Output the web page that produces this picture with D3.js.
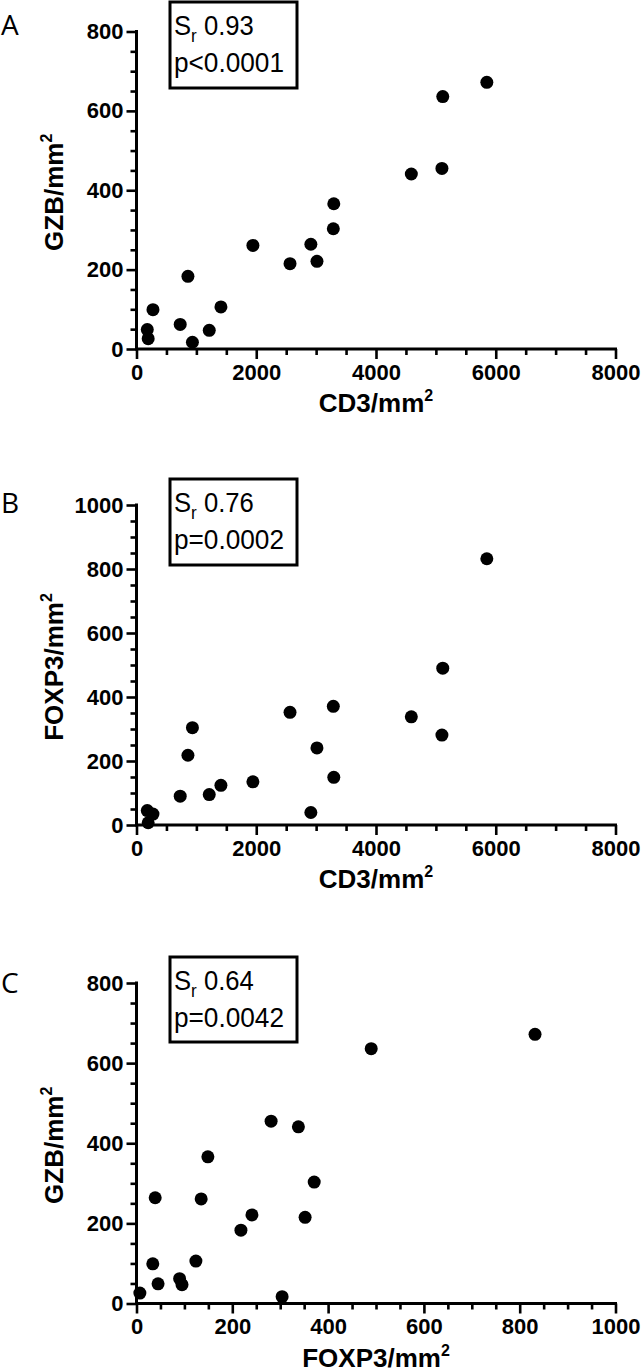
<!DOCTYPE html>
<html>
<head>
<meta charset="utf-8">
<script src="https://cdn.jsdelivr.net/npm/d3@7"></script>
<style>
  html, body { margin: 0; padding: 0; background: #fff; }
  svg { display: block; }
</style>
</head>
<body>
<script>
// ---- data ----
const cd3   = [180, 195, 275, 730, 859, 934, 1215, 1410, 1944, 2564, 2912, 3014, 3287, 3295, 4590, 5101, 5115, 5851];
const gzb   = [49, 26, 99, 62, 183, 17, 47, 106, 261, 215, 264, 221, 303, 366, 441, 455, 636, 672];
const foxp3 = [45, 7, 34, 90, 218, 304, 95, 124, 135, 352, 39, 241, 371, 149, 338, 281, 490, 832];

const panelLetters = ["A", "B", "C"];
const statR = ["0.93", "0.76", "0.64"];
const statP = ["p<0.0001", "p=0.0002", "p=0.0042"];
const xTitles = ["CD3", "CD3", "FOXP3"];
const yTitles = ["GZB", "FOXP3", "GZB"];
const xMax = [8000, 8000, 1000];
const yMax = [800, 1000, 800];
const xMajor = [2000, 2000, 200];
const yMajor = [200, 200, 200];
const xs = [cd3, cd3, foxp3];
const ys = [gzb, foxp3, gzb];

// ---- layout ----
const W = 644, H = 1372;
const layout = [
  { top: 31.5, bottom: 349, letterY: 35, boxTop: 2, boxBottom: 88 },
  { top: 505, bottom: 825, letterY: 513, boxTop: 479, boxBottom: 565 },
  { top: 983, bottom: 1303.5, letterY: 993, boxTop: 957, boxBottom: 1042 }
];
const left = 136.5, right = 615.5;

const svg = d3.select("body").append("svg").attr("width", W).attr("height", H);

const tickFont = "'Liberation Sans', Arial, sans-serif";

layout.forEach((L, i) => {
  const g = svg.append("g");
  const x = d3.scaleLinear().domain([0, xMax[i]]).range([left, right]);
  const y = d3.scaleLinear().domain([0, yMax[i]]).range([L.bottom, L.top]);

  const xMinorStep = xMajor[i] / 4, yMinorStep = yMajor[i] / 4;
  const xAll = d3.range(0, xMax[i] + 1e-9, xMinorStep);
  const yAll = d3.range(0, yMax[i] + 1e-9, yMinorStep);

  const xAxisMinor = d3.axisBottom(x).tickValues(xAll.filter(v => Math.abs(v % xMajor[i]) > 1e-6))
    .tickSize(6).tickFormat("");
  const yAxisMinor = d3.axisLeft(y).tickValues(yAll.filter(v => Math.abs(v % yMajor[i]) > 1e-6))
    .tickSize(6).tickFormat("");
  const xAxis = d3.axisBottom(x).tickValues(d3.range(0, xMax[i] + 1e-9, xMajor[i]))
    .tickSize(10).tickPadding(5).tickFormat(d3.format("d"));
  const yAxis = d3.axisLeft(y).tickValues(d3.range(0, yMax[i] + 1e-9, yMajor[i]))
    .tickSize(10).tickPadding(3).tickFormat(d3.format("d"));

  const styleAxis = sel => {
    sel.select(".domain").remove();
    sel.selectAll(".tick line").attr("stroke", "#000").attr("stroke-width", 2.6);
    sel.selectAll(".tick text").attr("fill", "#000")
      .style("font-family", tickFont).style("font-weight", "bold").style("font-size", "22px");
  };

  g.append("g").attr("transform", `translate(0,${L.bottom})`).call(xAxisMinor).call(styleAxis);
  g.append("g").attr("transform", `translate(${left},0)`).call(yAxisMinor).call(styleAxis);
  g.append("g").attr("transform", `translate(0,${L.bottom})`).call(xAxis).call(styleAxis);
  g.append("g").attr("transform", `translate(${left},0)`).call(yAxis).call(styleAxis);

  g.append("path")
    .attr("d", `M${left},${y(yMax[i])}V${L.bottom}H${x(xMax[i])}`)
    .attr("fill", "none").attr("stroke", "#000").attr("stroke-width", 3)
    .attr("stroke-linecap", "square");

  g.append("g").selectAll("circle")
    .data(xs[i].map((v, k) => [v, ys[i][k]]))
    .join("circle")
    .attr("cx", d => x(d[0])).attr("cy", d => y(d[1])).attr("r", 6.5).attr("fill", "#000");

  const xt = g.append("text")
    .attr("x", (left + right) / 2).attr("y", L.bottom + 63)
    .attr("text-anchor", "middle")
    .style("font-family", tickFont).style("font-weight", "bold").style("font-size", "26px");
  xt.append("tspan").text(xTitles[i] + "/mm");
  xt.append("tspan").attr("dy", -11).style("font-size", "16px").text("2");

  const yt = g.append("text")
    .attr("transform", `translate(63,${(L.top + L.bottom) / 2 + 2}) rotate(-90)`)
    .attr("text-anchor", "middle")
    .style("font-family", tickFont).style("font-weight", "bold").style("font-size", "26px");
  yt.append("tspan").text(yTitles[i] + "/mm");
  yt.append("tspan").attr("dy", -11).style("font-size", "16px").text("2");

  g.append("text").attr("x", 1).attr("y", L.letterY).text(panelLetters[i])
    .style("font-family", "'Open Sans', sans-serif").style("font-size", "28px").attr("fill", "#000");

  g.append("rect").attr("x", 170).attr("y", L.boxTop)
    .attr("width", 127).attr("height", L.boxBottom - L.boxTop)
    .attr("fill", "#fff").attr("stroke", "#000").attr("stroke-width", 3);
  const t1 = g.append("text")
    .attr("transform", `translate(174,${L.boxTop + 33}) scale(0.95,1)`)
    .style("font-family", tickFont).style("font-size", "27px");
  t1.append("tspan").text("S");
  t1.append("tspan").attr("dy", 7).style("font-size", "18px").text("r");
  t1.append("tspan").attr("dy", -7).text(" " + statR[i]);
  g.append("text").attr("x", 174).attr("y", L.boxTop + 70)
    .style("font-family", tickFont).style("font-size", "27px")
    .attr("textLength", 110).attr("lengthAdjust", "spacingAndGlyphs")
    .text(statP[i]);
});
</script>
</body>
</html>
